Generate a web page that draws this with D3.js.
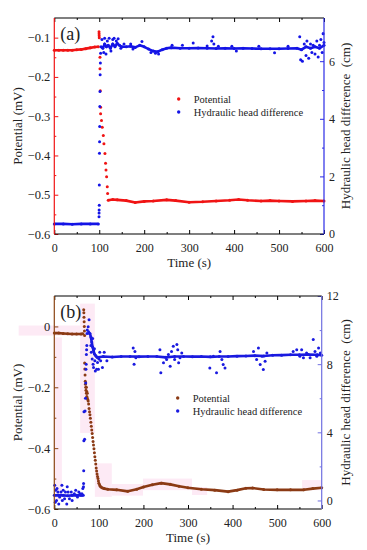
<!DOCTYPE html>
<html><head><meta charset="utf-8">
<script src="https://cdn.jsdelivr.net/npm/d3@7"></script>
<style>
body{margin:0;background:#fff;}
</style></head>
<body>
<svg id="c" width="367" height="550" font-family="Liberation Serif"></svg>
<script>
// ---------------- DATA ----------------
const timeTicks = [0,100,200,300,400,500,600];
const timeMinor = [50,150,250,350,450,550];

// Panel (a)
const potA_ticks = [-0.6,-0.5,-0.4,-0.3,-0.2,-0.1];
const potA_minor = [-0.55,-0.45,-0.35,-0.25,-0.15];
const headA_ticks = [0,2,4,6];
const headA_minor = [1,3,5,7];

const potA_line1 = [[0,-0.132],[10,-0.132],[20,-0.132],[30,-0.132],[40,-0.132],[50,-0.131],[60,-0.130],[70,-0.128],[80,-0.126],[90,-0.124],[98,-0.123]];
const potA_dots = [[99.5,-0.085],[99.6,-0.09],[99.8,-0.095],[100,-0.1],[101.6,-0.15],[101.6,-0.179],[102.3,-0.235],[103,-0.277],[103,-0.294],[105,-0.311],[106.7,-0.328],[109,-0.349],[110.4,-0.37],[112.7,-0.395],[114,-0.42],[115,-0.437],[116.4,-0.454],[117.8,-0.48],[118.6,-0.497]];
const potA_line2 = [[120,-0.514],[130,-0.512],[140,-0.513],[160,-0.515],[180,-0.52],[200,-0.517],[220,-0.516],[250,-0.513],[270,-0.515],[300,-0.519],[330,-0.518],[360,-0.516],[390,-0.514],[410,-0.512],[430,-0.514],[460,-0.516],[480,-0.515],[500,-0.516],[530,-0.517],[560,-0.516],[580,-0.515],[600,-0.516]];

const headA_line1 = [[0,0.35],[20,0.35],[40,0.34],[60,0.35],[80,0.35],[98,0.35]];
const headA_dots = [[99.5,0.6],[99.6,0.73],[99.7,0.83],[100,1.0],[100.2,1.7],[100.5,2.8],[100.7,3.2],[101,3.73],[101.3,4.43],[101.6,4.95],[102,5.53],[102.5,5.94],[103,6.28],
  [106,6.75],[110,6.3],[112,6.8],[115,6.25],[118,6.7],[122,6.8],[126,6.35],[130,6.75],[133,6.8],[138,6.7],[142,6.78],[148,6.45],[155,6.6],[170,6.6],[175,6.42],[195,6.68],[215,6.3],[225,6.28],[232,6.25],[262,6.55],[285,6.55],[309,6.63],[340,6.53],[350,6.7],[353,6.85],[355,6.6],[365,6.52],[395,6.52],[405,6.35],[455,6.52],[490,6.29],[520,6.52],[546,6.85],[548,6.05],[552,6.0],[556,6.6],[560,6.2],[562,6.7],[566,6.1],[570,6.6],[573,6.3],[576,6.55],[580,6.25],[584,6.7],[587,6.15],[590,6.55],[593,6.75],[596,6.3],[598,6.95],[600,6.65]];
const headA_line2 = [[104,6.5],[108,6.45],[112,6.6],[116,6.5],[120,6.55],[125,6.45],[130,6.6],[135,6.5],[140,6.62],[145,6.55],[150,6.5],[160,6.5],[170,6.52],[180,6.48],[190,6.55],[200,6.5],[210,6.42],[220,6.35],[230,6.33],[240,6.4],[250,6.45],[260,6.47],[280,6.45],[300,6.45],[320,6.46],[340,6.45],[360,6.44],[380,6.45],[400,6.44],[420,6.45],[440,6.44],[460,6.43],[480,6.43],[500,6.43],[520,6.44],[540,6.45],[550,6.4],[560,6.5],[570,6.45],[580,6.5],[590,6.45],[600,6.55]];

// Panel (b)
const potB_ticks = [-0.6,-0.4,-0.2,0];
const potB_minor = [-0.5,-0.3,-0.1];
const headB_ticks = [0,4,8,12];
const headB_minor = [2,6,10];

const potB_line1 = [[0,-0.022],[10,-0.022],[20,-0.023],[30,-0.024],[40,-0.025],[50,-0.025],[60,-0.025],[64,-0.024]];
const potB_dots = [[66,0.055],[66.3,0.045],[66.6,0.03],[67,0.015],[67.3,0.0],[67.6,-0.015],[68,-0.03],
  [68,-0.12],[68.5,-0.14],[69,-0.16],[69.5,-0.18],[70,-0.19],[70.5,-0.2],[71,-0.21],[72,-0.2],[72,-0.22],[73,-0.215],[73,-0.23],[74,-0.22],[74,-0.235],[75,-0.24],[76,-0.245],[77,-0.255],
  [78,-0.27],[79,-0.28],[80,-0.29],[81,-0.302],[82,-0.315],[83,-0.328],[84,-0.34],[85,-0.352],[86,-0.365],[87,-0.378],[88,-0.39],[89,-0.402],[90,-0.415],[91,-0.428],[92,-0.44],[93,-0.452],[94,-0.465],[95,-0.475],[96,-0.485],[97,-0.493],[98,-0.5],[99,-0.508],[100,-0.515],[101.5,-0.52],[103,-0.525],[105,-0.528],[107,-0.53],[110,-0.532]];
const potB_line2 = [[112,-0.533],[120,-0.535],[140,-0.537],[165,-0.542],[185,-0.535],[200,-0.528],[220,-0.52],[240,-0.515],[260,-0.519],[280,-0.525],[300,-0.53],[330,-0.535],[360,-0.538],[390,-0.543],[410,-0.538],[430,-0.532],[445,-0.531],[470,-0.536],[500,-0.537],[530,-0.537],[560,-0.537],[580,-0.533],[600,-0.53]];

const headB_line1 = [[0,0.3],[10,0.3],[20,0.3],[30,0.28],[40,0.3],[50,0.3],[60,0.3],[65,0.3]];
const headB_dots = [[1,0.9],[2,-0.1],[3,0.6],[5,0.0],[6,0.7],[8,0.5],[10,-0.2],[12,0.2],[15,0.5],[17,0.9],[18,0.0],[20,0.6],[23,0.1],[25,0.5],[28,-0.2],[29,0.8],[31,0.5],[34,0.1],[38,0.5],[40,0.0],[45,0.4],[48,0.6],[52,0.2],[55,0.5],[58,0.4],[62,0.4],[64,0.7],
  [65.5,0.8],[65.7,1.0],[66,1.74],[66.3,3.5],[66.6,5.2],[68,3.6],[69,5.25],[70,6.0],[70.5,6.9],[71,7.7],[71.5,8.0],[72,8.56],[72.5,8.85],[73,9.1],[73.5,9.8],[74,10.0],[76,10.2],[78,10.6],[77,9.9],[79,9.8],
  [82,9.1],[83,8.7],[85,8.3],[86,9.5],[87,8.0],[88,7.8],[90,8.9],[91,8.2],[92,7.6],[95,7.7],[97,8.1],[99,7.7],[100,8.3],[102,8.7],[104,8.2],[108,7.8],[112,8.7],[118,8.2],
  [177,8.95],[179,8.0],[181,8.75],[183,8.37],
  [237,8.85],[239,7.5],[245,8.08],[252,8.27],[256,8.56],[260,7.88],[263,8.75],[267,9.05],[270,8.27],[275,9.15],[277,8.85],[279,8.08],[282,8.37],[286,8.66],
  [349,7.78],[357,8.46],[364,7.49],[372,8.75],[376,8.27],[379,7.98],[383,7.78],
  [447,8.75],[454,8.27],[458,8.95],[462,7.98],[466,8.46],[469,7.68],[473,8.17],[477,8.66],
  [536,8.75],[544,8.85],[551,8.46],[555,8.85],[559,8.37],[566,8.66],[574,8.37],[581,9.44],[585,8.75],[589,8.46],[593,8.95],[597,8.66]];
const headB_line2 = [[80,9.8],[82,9.6],[84,9.3],[86,9.0],[88,8.8],[90,8.6],[93,8.5],[96,8.4],[100,8.4],[110,8.45],[130,8.42],[150,8.45],[170,8.45],[190,8.44],[210,8.45],[230,8.45],[250,8.4],[270,8.45],[290,8.45],[310,8.44],[330,8.45],[350,8.43],[370,8.45],[390,8.45],[410,8.47],[430,8.48],[450,8.5],[470,8.48],[490,8.52],[510,8.53],[530,8.55],[550,8.55],[570,8.56],[590,8.55],[600,8.52]];

// pink highlight blocks in panel (b): [t0,t1,v0,v1]
const pinkB = [[-80,62,0.003,-0.03],[1.5,17,-0.036,-0.57],[58,91,0.075,-0.35],[91,129,-0.45,-0.56],[129,199,-0.518,-0.556],[199,309,-0.5,-0.538],[309,343,-0.528,-0.554],[556,600,-0.505,-0.538]];

const legendLabels = ["Potential","Hydraulic head difference"];

// ---------------- DRAW ----------------
const svg = d3.select("#c");
const FONT = "Liberation Serif";
const FONT_X = 12, FONT_Y = 12.5, FONT_Y2 = 12, FONT_TITLE = 13;

function panel(cfg){
  const g = svg.append("g").attr("font-family",FONT);
  const x = d3.scaleLinear([0,600],[cfg.x0,cfg.x1]);
  const y = d3.scaleLinear(cfg.yDom,[cfg.yb,cfg.yt]);
  const y2 = d3.scaleLinear(cfg.y2Dom,[cfg.yb,cfg.yt]);

  if(cfg.pink){
    g.append("g").selectAll("rect").data(cfg.pink).join("rect")
      .attr("x",d=>x(d[0])).attr("width",d=>x(d[1])-x(d[0]))
      .attr("y",d=>y(d[2])).attr("height",d=>y(d[3])-y(d[2]))
      .attr("fill","#fdeaf5");
  }

  const line1 = d3.line().x(d=>x(d[0])).y(d=>y(d[1]));
  const line2 = d3.line().x(d=>x(d[0])).y(d=>y2(d[1]));
  const series = [
    {sets:cfg.pot, sc:y, ln:line1, col:cfg.potCol},
    {sets:cfg.head, sc:y2, ln:line2, col:cfg.headCol}
  ];
  series.forEach(s=>{
    s.sets.lines.forEach(arr=>{
      g.append("path").attr("d",s.ln(arr)).attr("fill","none").attr("stroke",s.col).attr("stroke-width",2.6).attr("stroke-linejoin","round");
    });
    const all = s.sets.lines.flat().concat(s.sets.dots);
    g.append("g").selectAll("circle").data(all).join("circle")
      .attr("cx",d=>x(d[0])).attr("cy",d=>s.sc(d[1])).attr("r",1.5).attr("fill",s.col);
  });

  const mk = (ax, col, fs) => sel => {
    sel.call(ax);
    sel.attr("font-family",FONT).attr("font-size",fs);
    sel.select(".domain").remove();
    sel.selectAll("line").attr("stroke",col).attr("stroke-width",1);
    sel.selectAll("text").attr("fill","#222").attr("font-family",FONT).attr("font-size",fs);
  };
  const fmt = cfg.fmt;
  g.append("g").attr("transform",`translate(0,${cfg.yb})`).call(mk(d3.axisBottom(x).tickValues(timeTicks).tickSize(-4).tickPadding(9),"#000",FONT_X));
  g.append("g").attr("transform",`translate(0,${cfg.yb})`).call(mk(d3.axisBottom(x).tickValues(timeMinor).tickSize(-2).tickFormat(""),"#000",FONT_X));
  g.append("g").attr("transform",`translate(0,${cfg.yt})`).call(mk(d3.axisTop(x).tickValues(timeTicks).tickSize(-4).tickFormat(""),"#000",FONT_X));
  g.append("g").attr("transform",`translate(0,${cfg.yt})`).call(mk(d3.axisTop(x).tickValues(timeMinor).tickSize(-2).tickFormat(""),"#000",FONT_X));
  g.append("g").attr("transform",`translate(${cfg.x0},0)`).call(mk(d3.axisLeft(y).tickValues(cfg.yTicks).tickSize(-4).tickPadding(4).tickFormat(fmt),cfg.leftCol,FONT_Y));
  g.append("g").attr("transform",`translate(${cfg.x0},0)`).call(mk(d3.axisLeft(y).tickValues(cfg.yMinor).tickSize(-2).tickFormat(""),cfg.leftCol,FONT_Y));
  g.append("g").attr("transform",`translate(${cfg.x1},0)`).call(mk(d3.axisRight(y2).tickValues(cfg.y2Ticks).tickSize(-4).tickPadding(5).tickFormat(d3.format("d")),cfg.rightCol,FONT_Y2));
  g.append("g").attr("transform",`translate(${cfg.x1},0)`).call(mk(d3.axisRight(y2).tickValues(cfg.y2Minor).tickSize(-2).tickFormat(""),cfg.rightCol,FONT_Y2));

  g.append("line").attr("x1",cfg.x0).attr("x2",cfg.x1).attr("y1",cfg.yt).attr("y2",cfg.yt).attr("stroke","#000").attr("stroke-width",1.2);
  g.append("line").attr("x1",cfg.x0).attr("x2",cfg.x1).attr("y1",cfg.yb).attr("y2",cfg.yb).attr("stroke","#000").attr("stroke-width",1.2);
  g.append("line").attr("x1",cfg.x0).attr("x2",cfg.x0).attr("y1",cfg.yt).attr("y2",cfg.yb).attr("stroke",cfg.leftCol).attr("stroke-width",1.2);
  g.append("line").attr("x1",cfg.x1).attr("x2",cfg.x1).attr("y1",cfg.yt).attr("y2",cfg.yb).attr("stroke",cfg.rightCol).attr("stroke-width",1.2);

  const cx = (cfg.x0+cfg.x1)/2, cy = (cfg.yt+cfg.yb)/2;
  const T = sel => sel.attr("font-family",FONT).attr("fill","#222");
  g.append("text").attr("x",cx).attr("y",cfg.yb+33).attr("text-anchor","middle").attr("font-size",FONT_TITLE).call(T).text("Time (s)");
  g.append("text").attr("transform",`translate(${cfg.leftTitleX},${cy+cfg.leftTitleDy}) rotate(-90)`).attr("text-anchor","middle").attr("font-size",FONT_TITLE).call(T).text("Potential (mV)");
  g.append("text").attr("transform",`translate(${cfg.rightTitleX},${cy}) rotate(-90)`).attr("text-anchor","middle").attr("font-size",FONT_TITLE).style("white-space","pre").call(T).text("Hydraulic head difference  (cm)");
  g.append("text").attr("x",cfg.x0+6).attr("y",cfg.yt+22).attr("font-size",18).call(T).text(cfg.tag);

  const lg = g.append("g").attr("transform",`translate(${cfg.legX},${cfg.legY})`);
  [cfg.potCol,cfg.headCol].forEach((c,i)=>{
    lg.append("circle").attr("cx",0).attr("cy",i*13).attr("r",1.7).attr("fill",c);
    lg.append("text").attr("x",15).attr("y",i*13+3.5).attr("font-size",10.5).call(T).text(legendLabels[i]);
  });
}

panel({x0:54.3,x1:324,yt:18,yb:234,yDom:[-0.6,-0.05],y2Dom:[0,7.5],
  yTicks:potA_ticks,yMinor:potA_minor,y2Ticks:headA_ticks,y2Minor:headA_minor,fmt:d3.format(".1f"),
  pot:{lines:[potA_line1,potA_line2],dots:potA_dots},head:{lines:[headA_line1,headA_line2],dots:headA_dots},
  potCol:"#f01414",headCol:"#1414e6",leftCol:"#f01414",rightCol:"#2a2ae6",
  leftTitleX:22,leftTitleDy:0,rightTitleX:350,tag:"(a)",legX:178.7,legY:99});

panel({x0:54.3,x1:321.7,yt:296,yb:509,yDom:[-0.6,0.1],y2Dom:[-0.5,12],
  yTicks:potB_ticks,yMinor:potB_minor,y2Ticks:headB_ticks,y2Minor:headB_minor,fmt:d => d===0?"0":d3.format(".1f")(d),
  pot:{lines:[potB_line1,potB_line2],dots:potB_dots},head:{lines:[headB_line1,headB_line2],dots:headB_dots},
  potCol:"#8b3a14",headCol:"#1a1ae0",leftCol:"#8b4513",rightCol:"#7070e0",pink:pinkB,
  leftTitleX:22,leftTitleDy:0,rightTitleX:350,tag:"(b)",legX:177.7,legY:398});
</script>
</body></html>
